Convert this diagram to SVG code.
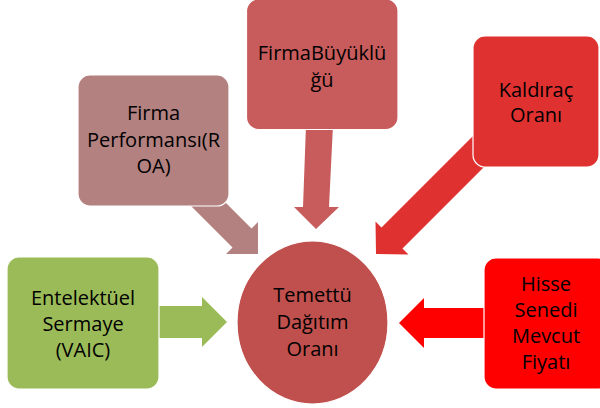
<svg xmlns="http://www.w3.org/2000/svg" width="600" height="408" viewBox="0 0 600 408">
<style>
.box{stroke:#ffffff;stroke-width:1.2}
.t{font-family:"Open Sans","Liberation Sans",sans-serif;font-size:20px;fill:#000000;text-anchor:middle}
</style>
<rect width="600" height="408" fill="#ffffff"/>
<g id="connectors">
<polygon fill="#B38180" points="204.5,181.5 251.5,228.5 258,222 258,254 226,254 232.5,247.5 185.5,200.5"/>
<polygon fill="#C85C5C" points="306,125 333,125 329,207 339,207 316,229 294,207 303,207"/>
<polygon fill="#E03131" points="474.5,134.5 381.5,227.5 375.5,221.5 376,254 408.5,254.5 402.5,248.5 495.5,155.5"/>
<polygon fill="#9BBB59" points="155,306 202,306 202,297 227,322 202,347 202,338 155,338"/>
<polygon fill="#FF0000" points="490,308 424,308 424,298 399,323 424,348 424,338 490,338"/>
</g>
<g id="node-performans">
<rect class="box" x="78" y="75" width="151" height="131" rx="12" fill="#B38180"/>
<text class="t" x="153.5" y="120">Firma</text>
<text class="t" x="153.5" y="147">Performansı(R</text>
<text class="t" x="153.5" y="173">OA)</text>
</g>
<g id="node-buyukluk">
<rect class="box" x="246.5" y="-1" width="151.5" height="130.5" rx="12" fill="#C85C5C"/>
<text class="t" x="322" y="60">FirmaBüyüklü</text>
<text class="t" x="322" y="87">ğü</text>
</g>
<g id="node-kaldirac">
<rect class="box" x="473" y="36" width="126" height="131" rx="12" fill="#E03131"/>
<text class="t" x="536" y="97">Kaldıraç</text>
<text class="t" x="536" y="122">Oranı</text>
</g>
<g id="node-entelektuel">
<rect class="box" x="7" y="257" width="152" height="132" rx="12" fill="#9BBB59"/>
<text class="t" x="83" y="305">Entelektüel</text>
<text class="t" x="83" y="331">Sermaye</text>
<text class="t" x="83" y="357">(VAIC)</text>
</g>
<g id="node-hisse">
<rect class="box" x="484" y="258" width="126" height="131" rx="12" fill="#FF0000"/>
<text class="t" x="546" y="291">Hisse</text>
<text class="t" x="546" y="317">Senedi</text>
<text class="t" x="546" y="343">Mevcut</text>
<text class="t" x="546" y="369">Fiyatı</text>
</g>
<g id="node-temettu">
<ellipse class="box" cx="312.5" cy="322.5" rx="75.5" ry="81.5" fill="#C0504D"/>
<text class="t" x="312.5" y="302">Temettü</text>
<text class="t" x="312.5" y="329">Dağıtım</text>
<text class="t" x="312.5" y="356">Oranı</text>
</g>
</svg>
